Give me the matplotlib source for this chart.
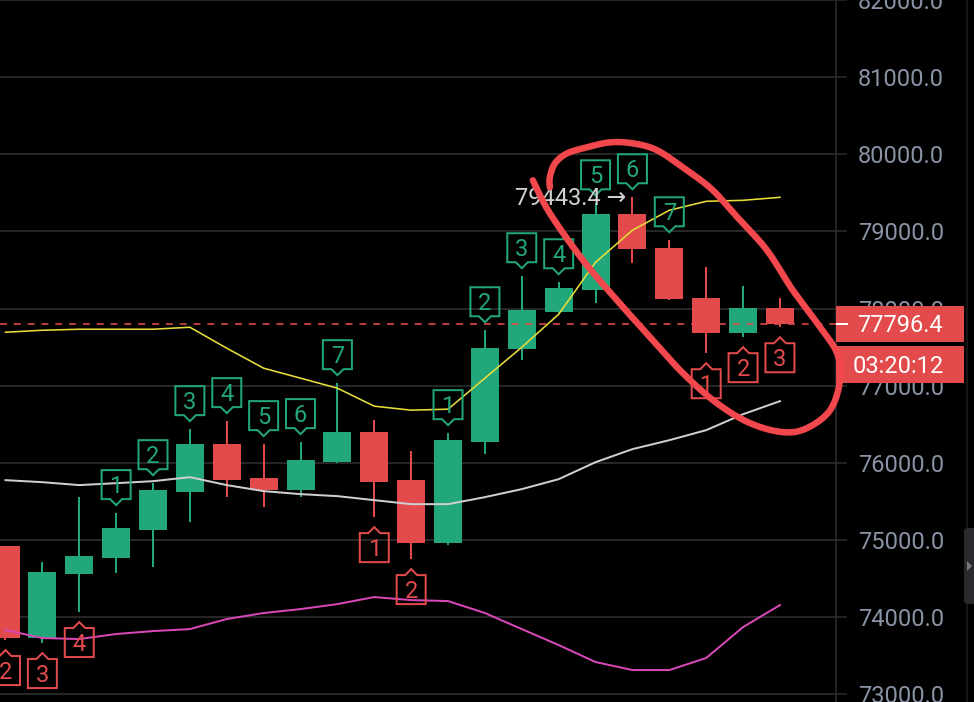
import numpy as np
import matplotlib
matplotlib.use("Agg")
import matplotlib.pyplot as plt
import matplotlib.transforms as mtransforms
from matplotlib.patches import Rectangle, Polygon, FancyBboxPatch
from matplotlib.lines import Line2D

plt.rcParams['font.family'] = ['Roboto', 'DejaVu Sans']

# ---------------- data ----------------
opens  = [74922, 73731, 74560, 74767, 75130, 75622, 76244, 75803, 75648, 76010, 76399,
          75777, 74961, 76270, 77474, 77953, 78238, 79223, 78782, 78135, 77681, 78005]
highs  = [74922, 74715, 75557, 75350, 75738, 76438, 76542, 76244, 76270, 77034, 76555,
          76153, 76386, 77720, 78420, 78342, 79365, 79443.4, 78886, 78536, 78290, 78135]
lows   = [73705, 73666, 74068, 74573, 74650, 75233, 75557, 75427, 75557, 76000, 75298,
          74754, 74935, 76114, 77332, 77940, 78070, 78588, 78110, 77422, 77630, 77759]
closes = [73731, 74586, 74793, 75156, 75648, 76244, 75777, 75648, 76036, 76399, 75751,
          74961, 76295, 77487, 77979, 78264, 79223, 78770, 78122, 77681, 78005, 77796.4]

upper  = [77694, 77720, 77733, 77733, 77733, 77759, 77487, 77228, 77099, 76969, 76736,
          76684, 76697, 77099, 77500, 77927, 78601, 79016, 79275, 79391, 79404, 79443]
middle = [75777, 75751, 75713, 75738, 75764, 75816, 75713, 75635, 75596, 75570, 75518,
          75466, 75466, 75557, 75661, 75790, 76010, 76179, 76295, 76425, 76632, 76801]
lower  = [73834, 73731, 73718, 73783, 73821, 73847, 73977, 74055, 74106, 74171, 74262,
          74223, 74210, 74055, 73847, 73640, 73420, 73316, 73316, 73472, 73873, 74158]

td_up_idx = [3, 4, 5, 6, 7, 8, 9, 12, 13, 14, 15, 16, 17, 18]
td_up_num = [1, 2, 3, 4, 5, 6, 7, 1, 2, 3, 4, 5, 6, 7]
td_dn_idx = [0, 1, 2, 10, 11, 19, 20, 21]
td_dn_num = [2, 3, 4, 1, 2, 1, 2, 3]

yticks = [73000, 74000, 75000, 76000, 77000, 78000, 79000, 80000, 81000, 82000]
last_price = 77796.4
countdown = "03:20:12"
max_idx = 17
max_price = 79443.4

# hand-drawn red loop (annotation) in (candle index, price)
loop_x = [14.30, 14.76, 15.66, 16.58, 17.48, 18.37, 19.29, 20.19, 21.08, 21.73, 22.36,
          22.63, 22.55, 22.09, 21.35, 20.65, 19.92, 19.18, 18.48, 17.67, 17.01, 16.39,
          15.77, 15.23, 14.90, 14.76, 14.76]
loop_y = [79663, 79236, 78627, 78109, 77630, 77163, 76775, 76516, 76399, 76451, 76684,
          77073, 77422, 77759, 78238, 78756, 79145, 79534, 79793, 80052, 80142, 80155,
          80091, 80013, 79883, 79702, 79572]

# ---------------- style ----------------
W, H, DPI = 974, 702, 100
BG = '#000000'
GREEN = '#22a77a'
RED = '#e24a4b'
GRID = '#262626'
TXT = '#8a93a6'
PX = 72.0 / DPI  # points per pixel

fig = plt.figure(figsize=(W / DPI, H / DPI), dpi=DPI, facecolor=BG)
ax = fig.add_axes([0, 0, 836 / W, 1])
ax.set_facecolor(BG)
n = len(opens)
x = np.arange(n)
ax.set_xlim(-0.149, 22.52)
ax.set_ylim(72902, 81995)

o = np.array(opens); c = np.array(closes); hi = np.array(highs); lo = np.array(lows)
cols = [GREEN if cc >= oo else RED for oo, cc in zip(o, c)]

ax.vlines(x, lo, hi, colors=cols, lw=2 * PX, zorder=2)
ax.bar(x, np.abs(c - o), bottom=np.minimum(o, c), width=0.76, color=cols, zorder=3)

ax.plot(x, upper, color='#e6dc3a', lw=1.6 * PX, zorder=4)
ax.plot(x, middle, color='#cfcfcf', lw=2 * PX, zorder=4)
ax.plot(x, lower, color='#d848b8', lw=2 * PX, zorder=4)

ax.axhline(last_price, color=RED, lw=1.6 * PX, dashes=(6 * PX, 6 * PX), zorder=5)

# axis styling
ax.yaxis.tick_right()
ax.set_yticks(yticks)
ax.set_yticklabels([f'{v:.1f}' for v in yticks])
ax.tick_params(axis='y', length=11 * PX, width=1.5 * PX, color='#2e2e2e', pad=11 * PX,
               labelsize=17, labelcolor=TXT)
ax.tick_params(axis='x', bottom=False, labelbottom=False)
for s in ['top', 'left', 'bottom']:
    ax.spines[s].set_visible(False)
ax.spines['right'].set_color('#2e2e2e')
ax.spines['right'].set_linewidth(1.5 * PX)
ax.grid(axis='y', color=GRID, lw=2 * PX)
ax.set_axisbelow(True)

# TD sequential labels
def label(i, yv, num, up):
    col = GREEN if up else RED
    s = 1 if up else -1
    tip, base, top, hw, bw = 8, 14, 43, 6, 14.5
    if not up:
        tip, base, top = 10, 16, 45
    verts = [(-bw, s * base), (-hw, s * base), (0, s * tip), (hw, s * base),
             (bw, s * base), (bw, s * top), (-bw, s * top)]
    tr = mtransforms.Affine2D() + mtransforms.ScaledTranslation(i, yv, ax.transData)
    ax.add_patch(Polygon(verts, closed=True, fill=False, edgecolor=col,
                         lw=2 * PX, transform=tr, zorder=6, joinstyle='miter'))
    cy = s * (base + top) / 2.0
    ax.annotate(str(num), xy=(i, yv), xytext=(0, (cy - 8.5) * PX),
                textcoords='offset points', ha='center', va='baseline',
                fontsize=17, color=col, zorder=7)

for i, nm in zip(td_up_idx, td_up_num):
    label(i, highs[i], nm, True)
for i, nm in zip(td_dn_idx, td_dn_num):
    label(i, lows[i], nm, False)

# max price marker
ax.annotate(f'{max_price} \u2192', xy=(max_idx, max_price), xytext=(-6 * PX, -8 * PX),
            textcoords='offset points', ha='right', va='baseline', fontsize=17,
            color='#d2d2d2', zorder=7)

# price + countdown boxes (figure level, over tick labels)
ident = mtransforms.IdentityTransform()
yc = ax.transData.transform((0, last_price))[1]
fig.add_artist(Rectangle((836, yc - 18), 128, 36, facecolor=RED, edgecolor='none',
                         transform=ident, zorder=2))
fig.add_artist(Rectangle((836, yc - 18 - 4 - 37), 128, 37, facecolor=RED, edgecolor='none',
                         transform=ident, zorder=2))
fig.add_artist(Line2D([837, 847], [yc, yc], color='white', lw=2 * PX, transform=ident, zorder=3))
fig.text(900 / W, (yc - 8) / H, f'{last_price:.1f}', ha='center', va='baseline',
         fontsize=17, color='white', zorder=4)
fig.text(898 / W, (yc - 18 - 4 - 18.5 - 8) / H, countdown, ha='center', va='baseline',
         fontsize=17, color='white', zorder=4)

# right edge details
fig.add_artist(Line2D([967, 967], [0, H], color='#1e1e1e', lw=1.5 * PX, transform=ident, zorder=1))
fig.add_artist(FancyBboxPatch((964, H - 604), 14, 76, boxstyle='round,pad=0,rounding_size=4',
                              facecolor='#2a2a2e', edgecolor='none', transform=ident, zorder=2))
fig.add_artist(Polygon([(967, H - 561), (967, H - 571), (972, H - 566)], closed=True,
                       facecolor='#77777c', edgecolor='none', transform=ident, zorder=3))

# hand-drawn loop (smoothed Catmull-Rom in display space)
def catmull(pts, k=14):
    pts = np.asarray(pts, float)
    P = np.vstack([pts[0], pts, pts[-1]])
    out = []
    t = np.linspace(0, 1, k, endpoint=False)[:, None]
    for j in range(1, len(P) - 2):
        p0, p1, p2, p3 = P[j - 1], P[j], P[j + 1], P[j + 2]
        out.append(0.5 * ((2 * p1) + (-p0 + p2) * t + (2 * p0 - 5 * p1 + 4 * p2 - p3) * t ** 2
                          + (-p0 + 3 * p1 - 3 * p2 + p3) * t ** 3))
    out.append(P[-2][None])
    return np.vstack(out)

disp = ax.transData.transform(np.column_stack([loop_x, loop_y]))
sm = catmull(disp)
fig.add_artist(Line2D(sm[:, 0], sm[:, 1], color='#f2474c', lw=6.5 * PX, transform=ident,
                      solid_capstyle='round', solid_joinstyle='round', zorder=6))

fig.savefig('out.png', dpi=DPI, facecolor=BG)
